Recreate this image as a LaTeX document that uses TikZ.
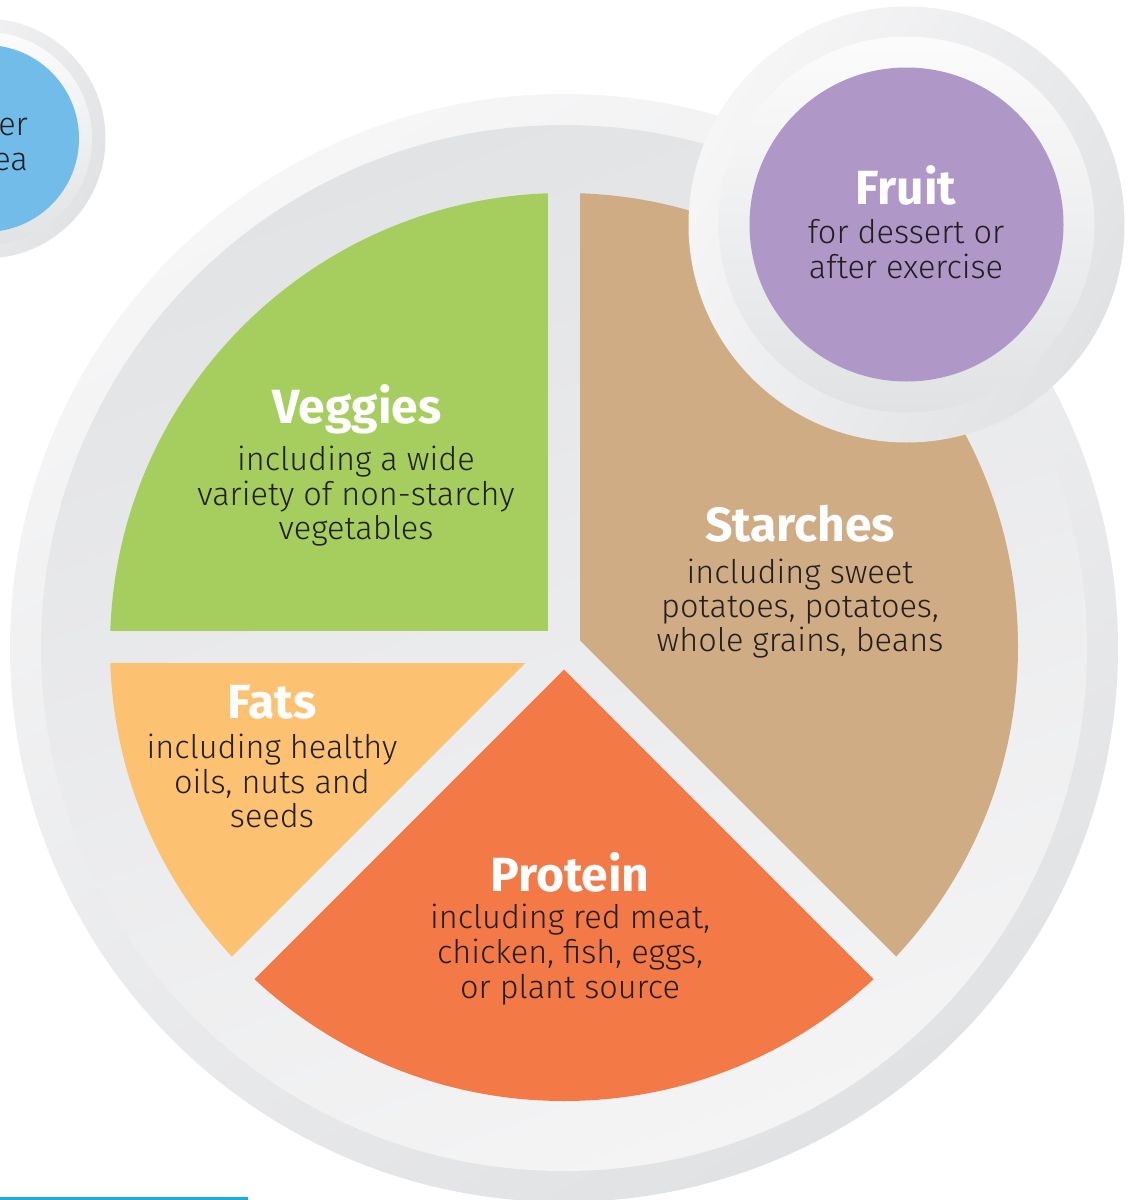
\documentclass[tikz,border=0pt]{standalone}
\usepackage{fontspec}
\IfFontExistsTF{Fira Sans Light}{\newfontfamily\bodyfont{Fira Sans Light}}{\newfontfamily\bodyfont{Fira Sans}}
\newfontfamily\headfont{Fira Sans}
\definecolor{veg}{HTML}{A5CE5F}
\definecolor{starch}{HTML}{CFAC83}
\definecolor{fats}{HTML}{FCC272}
\definecolor{protein}{HTML}{F37946}
\definecolor{fruit}{HTML}{AF97C8}
\definecolor{water}{HTML}{71BCE9}
\definecolor{txt}{HTML}{231F20}
\definecolor{ringlight}{HTML}{F6F6F7}
\definecolor{ringdark}{HTML}{E1E2E4}
\definecolor{innerlight}{HTML}{F4F4F5}
\definecolor{innerdark}{HTML}{E2E3E5}
\definecolor{cyanline}{HTML}{1AAED8}
\tikzset{
  head/.style={anchor=base, inner sep=0pt, text=white, font=\headfont\bfseries\fontsize{48}{48}\selectfont},
  body/.style={anchor=base, inner sep=0pt, text=txt, font=\bodyfont\fontsize{32.5}{35}\selectfont},
}
\begin{document}
\begin{tikzpicture}[x=1pt,y=-1pt]
\useasboundingbox (0,0) rectangle (1129,1200);
\clip (0,0) rectangle (1129,1200);
% plate
\shade[top color=ringlight, bottom color=ringdark, shading angle=30] (564,648) circle (554pt);
\shade[top color=innerdark, bottom color=innerlight, shading angle=20] (564,648) circle (523pt);
% sectors
\begin{scope}
\clip (564,647) circle (454pt);
\fill[veg] (548,631) -- (548,100) -- (100,100) -- (100,631) -- cycle;
\fill[starch] (580,100) -- (1100,100) -- (1100,1160.4) -- (580,640.4) -- cycle;
\fill[protein] (564,669.6) -- (1164,1269.6) -- (-36,1269.6) -- cycle;
\fill[fats] (525.4,663) -- (0,663) -- (0,1188.4) -- cycle;
\end{scope}
% fruit
\shade[top color=ringlight, bottom color=ringdark, shading angle=60] (906.5,224.5) circle (218pt);
\shade[top color=white!60!ringlight, bottom color=ringdark] (906.5,224.5) circle (188pt);
\fill[fruit] (906.5,224.5) circle (157pt);
% water
\shade[top color=ringlight, bottom color=ringdark, shading angle=60] (-14.5,138.5) circle (120pt);
\shade[top color=white!60!ringlight, bottom color=ringdark] (-14.5,138.5) circle (106.5pt);
\fill[water] (-14.5,138.5) circle (93.5pt);
\fill[cyanline] (0,1196.5) rectangle (248,1200);
% texts
\node[body, anchor=base east] (w1) at (28,135) {er};
\node[body, anchor=base east] (w2) at (28,170) {ea};
\node[head] (vt) at (357,423) {Veggies};
\node[body] (v1) at (356,470) {including a wide};
\node[body] (v2) at (356,505) {variety of non-starchy};
\node[body] (v3) at (356,539) {vegetables};
\node[head] (st) at (800,541) {Starches};
\node[body] (s1) at (800,583) {including sweet};
\node[body] (s2) at (800,617) {potatoes, potatoes,};
\node[body] (s3) at (800,651) {whole grains, beans};
\node[head] (ft) at (906,204) {Fruit};
\node[body] (f1) at (906,243) {for dessert or};
\node[body] (f2) at (906,278) {after exercise};
\node[head] (at) at (272,718) {Fats};
\node[body] (a1) at (272,758) {including healthy};
\node[body] (a2) at (272,793) {oils, nuts and};
\node[body] (a3) at (272,827) {seeds};
\node[head] (pt) at (570,891) {Protein};
\node[body] (p1) at (570,928) {including red meat,};
\node[body] (p2) at (570,963) {chicken, fish, eggs,};
\node[body] (p3) at (570,998) {or plant source};
\end{tikzpicture}
\end{document}
